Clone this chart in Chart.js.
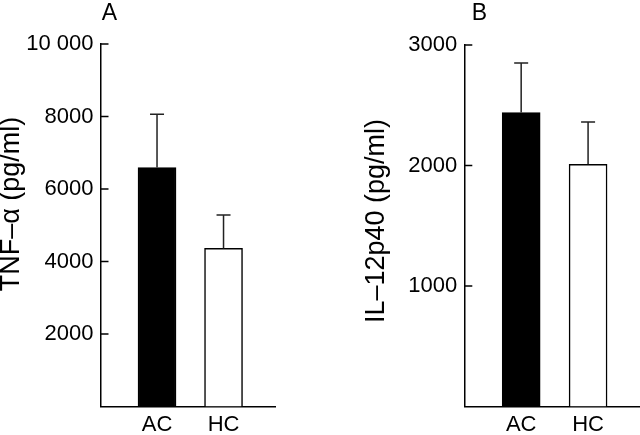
<!DOCTYPE html>
<html>
<head>
<meta charset="utf-8">
<script src="https://cdn.jsdelivr.net/npm/chart.js@4"></script>
<style>
  body { margin: 0; background: #fff; }
  #wrap { position: relative; width: 640px; height: 435px; }
  canvas { position: absolute; top: 0; }
  #chartA { left: 0; }
  #chartB { left: 320px; }
</style>
</head>
<body>
<div id="wrap">
  <canvas id="chartA" width="320" height="435"></canvas>
  <canvas id="chartB" width="320" height="435"></canvas>
</div>
<script>
// groups and values
const groups = ['AC', 'HC'];
const tnfMean = [6590, 4360];
const tnfSem = [1470, 920];
const il12Mean = [2440, 2010];
const il12Sem = [410, 350];
const tnfTicks = [2000, 4000, 6000, 8000, 10000];
const il12Ticks = [1000, 2000, 3000];

const FONT = '"Liberation Sans", Arial, Helvetica, sans-serif';

// error bars (upper only) + inward tick marks + panel letter + axis title
const extras = {
  id: 'extras',
  afterDatasetsDraw(chart, args, opts) {
    const ctx = chart.ctx;
    const y = chart.scales.y;
    const area = chart.chartArea;
    const meta = chart.getDatasetMeta(0);
    ctx.save();
    ctx.strokeStyle = '#222';
    ctx.lineWidth = 1.5;
    meta.data.forEach((bar, i) => {
      const top = y.getPixelForValue(opts.mean[i] + opts.sem[i]);
      ctx.beginPath();
      ctx.moveTo(bar.x, bar.y);
      ctx.lineTo(bar.x, top);
      ctx.moveTo(bar.x - 7, top);
      ctx.lineTo(bar.x + 7, top);
      ctx.stroke();
    });
    ctx.strokeStyle = '#000';
    y.ticks.forEach(t => {
      if (t.value === 0) return;
      const py = y.getPixelForValue(t.value);
      ctx.beginPath();
      ctx.moveTo(area.left, py);
      ctx.lineTo(area.left + 8, py);
      ctx.stroke();
    });
    ctx.fillStyle = '#000';
    ctx.font = '23px ' + FONT;
    ctx.textAlign = 'center';
    ctx.textBaseline = 'alphabetic';
    ctx.fillText(opts.letter, area.left + opts.letterDx, 20);
    ctx.translate(opts.titleX, opts.titleY);
    ctx.rotate(-Math.PI / 2);
    ctx.font = '27px ' + FONT;
    ctx.textBaseline = 'middle';
    ctx.fillText(opts.title, 0, 0);
    ctx.restore();
  }
};

function makeChart(id, mean, sem, ticks, yMax, cfg) {
  return new Chart(document.getElementById(id), {
    type: 'bar',
    data: {
      datasets: [{
        data: groups.map((g, i) => ({ x: i + 1, y: mean[i] })),
        backgroundColor: ['#000', '#fff'],
        borderColor: '#000',
        borderWidth: 1.5,
        barThickness: 38
      }]
    },
    options: {
      responsive: false,
      animation: false,
      layout: { padding: { top: cfg.top, right: cfg.right, left: 0, bottom: 0 } },
      plugins: {
        legend: { display: false },
        tooltip: { enabled: false },
        extras: cfg.extras
      },
      scales: {
        x: {
          type: 'linear',
          offset: false,
          min: 0.15,
          max: cfg.xMax,
          grid: { display: false, drawTicks: false },
          border: { display: true, color: '#000', width: 1.5 },
          afterBuildTicks: axis => { axis.ticks = groups.map((g, i) => ({ value: i + 1 })); },
          afterFit: axis => { axis.height = 28.5; },
          ticks: {
            padding: 5,
            color: '#000',
            font: { family: FONT, size: 22 },
            callback: v => groups[v - 1]
          }
        },
        y: {
          min: 0,
          max: yMax,
          grid: { display: false, drawTicks: false },
          border: { display: true, color: '#000', width: 1.5 },
          afterBuildTicks: axis => { axis.ticks = [0].concat(ticks).map(v => ({ value: v })); },
          afterFit: axis => { axis.width = cfg.yWidth; },
          ticks: {
            padding: cfg.tickPad,
            color: '#000',
            font: { family: FONT, size: 22 },
            callback: v => v === 0 ? '' : (v >= 10000 ? '10 000' : String(v))
          }
        }
      }
    },
    plugins: [extras]
  });
}

makeChart('chartA', tnfMean, tnfSem, tnfTicks, 10000, {
  top: 44, right: 45, xMax: 2.774, yWidth: 100.5, tickPad: 7,
  extras: { mean: tnfMean, sem: tnfSem, letter: 'A', letterDx: 9,
            title: 'TNF\u2013\u03b1 (pg/ml)', titleX: 12, titleY: 204 }
});

makeChart('chartB', il12Mean, il12Sem, il12Ticks, 3000, {
  top: 45, right: 0, xMax: 2.776, yWidth: 144.3, tickPad: 7,
  extras: { mean: il12Mean, sem: il12Sem, letter: 'B', letterDx: 15,
            title: 'IL\u201312p40 (pg/ml)', titleX: 57, titleY: 221 }
});
</script>
</body>
</html>
